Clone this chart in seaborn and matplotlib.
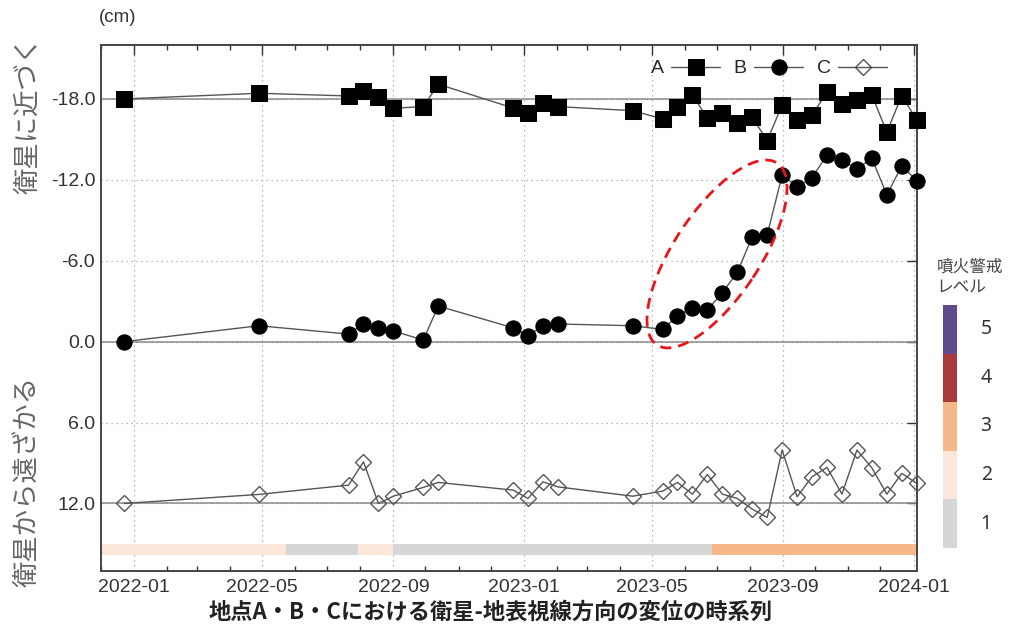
import pandas as pd
import numpy as np
import matplotlib
matplotlib.use("Agg")
import matplotlib.pyplot as plt
import matplotlib.dates as mdates
import matplotlib.transforms as mtransforms
from matplotlib.patches import Ellipse
import seaborn as sns

# 観測日 (14日間隔)
dates = pd.to_datetime([
    "2021-12-23", "2022-04-28", "2022-07-21", "2022-08-04", "2022-08-18",
    "2022-09-01", "2022-09-29", "2022-10-13", "2022-12-22", "2023-01-05",
    "2023-01-19", "2023-02-02", "2023-04-13", "2023-05-11", "2023-05-25",
    "2023-06-08", "2023-06-22", "2023-07-06", "2023-07-20", "2023-08-03",
    "2023-08-17", "2023-08-31", "2023-09-14", "2023-09-28", "2023-10-12",
    "2023-10-26", "2023-11-09", "2023-11-23", "2023-12-07", "2023-12-21",
    "2024-01-04"])

# 変位 (cm) 表示用にオフセット済み
disp_a = [-18.0, -18.42, -18.22, -18.62, -18.13, -17.31, -17.43, -19.09, -17.33, -16.94,
          -17.68, -17.43, -17.13, -16.52, -17.43, -18.30, -16.57, -16.94, -16.20, -16.64,
          -14.91, -17.56, -16.44, -16.81, -18.50, -17.63, -17.93, -18.30, -15.53, -18.25,
          -16.44]
disp_b = [0.0, -1.18, -0.56, -1.31, -1.01, -0.79, -0.12, -2.64, -1.03, -0.44,
          -1.18, -1.31, -1.18, -0.91, -1.90, -2.52, -2.35, -3.63, -5.14, -7.78,
          -7.91, -12.36, -11.49, -12.16, -13.85, -13.47, -12.81, -13.60, -10.88, -13.03,
          -11.94]
disp_c = [12.0, 11.33, 10.64, 8.91, 12.0, 11.46, 10.81, 10.44, 11.01, 11.63,
          10.40, 10.77, 11.46, 11.09, 10.44, 11.31, 9.85, 11.31, 11.63, 12.42,
          13.04, 8.04, 11.51, 10.02, 9.33, 11.31, 8.04, 9.36, 11.31, 9.77,
          10.51]

baselines = [-18.0, 0.0, 12.0]
yticks = [-18, -12, -6, 0, 6, 12]

# 噴火警戒レベルの期間
level_start = pd.to_datetime(["2021-12-01", "2022-05-23", "2022-07-30", "2022-09-01", "2023-06-26"])
level_end = pd.to_datetime(["2022-05-23", "2022-07-30", "2022-09-01", "2023-06-26", "2024-01-04"])
level_values = [2, 1, 2, 1, 3]

level_names = [1, 2, 3, 4, 5]
level_colors = {1: "#d6d6d6", 2: "#fde6da", 3: "#f6b888", 4: "#a83c3c", 5: "#5f4b8b"}

sns.set_style("white")
plt.rcParams["font.family"] = ["Liberation Sans Narrow", "Liberation Sans", "Noto Sans CJK JP", "DejaVu Sans"]
plt.rcParams["axes.unicode_minus"] = False

fig = plt.figure(figsize=(10.26, 6.4), dpi=100)
ax = fig.add_axes([0.0982, 0.108, 0.7953, 0.8217])

xmin = pd.Timestamp("2021-12-01")
xmax = pd.Timestamp("2024-01-04")

# グリッドと基準線
for y in yticks:
    ax.axhline(y, color="#a0a0a0", lw=0.9, ls=(0, (1, 3)), zorder=0)
for d in pd.to_datetime(["2022-01-01", "2022-05-01", "2022-09-01", "2023-01-01",
                         "2023-05-01", "2023-09-01", "2024-01-01"]):
    ax.axvline(d, color="#a0a0a0", lw=0.9, ls=(0, (1, 3)), zorder=0)
for y in baselines:
    ax.axhline(y, color="#8a8a8a", lw=1.1, zorder=1)

# 警戒レベル帯
for s, e, lv in zip(level_start, level_end, level_values):
    ax.broken_barh([(mdates.date2num(s), mdates.date2num(e) - mdates.date2num(s))],
                   (15.0, 0.8), facecolors=level_colors[lv], edgecolor="none", zorder=1)

sns.lineplot(x=dates, y=disp_a, ax=ax, color="#555555", lw=1.0, marker="s",
             markersize=11, markerfacecolor="black", markeredgecolor="black", label="A",
             zorder=3, clip_on=False)
sns.lineplot(x=dates, y=disp_b, ax=ax, color="#555555", lw=1.0, marker="o",
             markersize=11, markerfacecolor="black", markeredgecolor="black", label="B",
             zorder=3, clip_on=False)
sns.lineplot(x=dates, y=disp_c, ax=ax, color="#555555", lw=1.0, marker="D",
             markersize=8, markerfacecolor="none", markeredgecolor="#555555",
             markeredgewidth=1.0, label="C", zorder=3, clip_on=False)

ax.set_xlim(xmin, xmax)
ax.set_ylim(17.0, -22.0)
ax.set_yticks(yticks)
ax.yaxis.set_major_formatter(plt.FormatStrFormatter("%.1f"))
ax.xaxis.set_major_locator(mdates.MonthLocator(bymonth=[1, 5, 9]))
ax.xaxis.set_minor_locator(mdates.MonthLocator())
ax.xaxis.set_major_formatter(mdates.DateFormatter("%Y-%m"))
ax.tick_params(axis="both", which="major", direction="in", length=7, width=1.0,
               top=True, right=True, labelsize=14, colors="#333333", pad=6)
ax.tick_params(axis="x", which="minor", direction="in", length=3.5, width=1.0,
               top=True, bottom=True, color="#333333")
ax.tick_params(axis="y", pad=4)
for sp in ax.spines.values():
    sp.set_color("#444444")
    sp.set_linewidth(1.4)
ax.set_xlabel("")
ax.set_ylabel("")

leg = ax.legend(ncol=3, markerfirst=False, frameon=False, loc="upper right",
                bbox_to_anchor=(0.985, 1.005), handlelength=2.5, columnspacing=0.7,
                handletextpad=0.4, fontsize=14)

# 赤い破線の楕円 (ピクセル単位で指定)
trans = fig.dpi_scale_trans + mtransforms.ScaledTranslation(
    mdates.date2num(pd.Timestamp("2023-07-01")), -6.5, ax.transData)
ax.add_patch(Ellipse((0, 0), 2.18, 0.86, angle=56.5, transform=trans, fill=False,
                     edgecolor="#e8161b", lw=2.0, ls=(0, (4, 2.5)), zorder=4))

# テキスト
fig.text(0.096, 0.972, "(cm)", fontsize=13.5, color="#333333", ha="left", va="center")
fig.text(0.027, 0.82, "衛星に近づく", rotation=90, fontsize=19, color="#666666",
         ha="center", va="center", family=["Noto Sans CJK JP"])
fig.text(0.027, 0.247, "衛星から遠ざかる", rotation=90, fontsize=19, color="#666666",
         ha="center", va="center", family=["Noto Sans CJK JP"])
fig.text(0.478, 0.043, "地点A・B・Cにおける衛星-地表視線方向の変位の時系列", fontsize=16,
         fontweight="bold", color="#222222", ha="center", va="center",
         family=["Noto Sans CJK JP"])

# 噴火警戒レベルの凡例
lax = fig.add_axes([0.919, 0.1438, 0.0136, 0.3797])
for lv in level_names:
    lax.bar(0, 1, bottom=lv - 1, width=1, color=level_colors[lv], edgecolor="none")
    lax.text(2.6, lv - 0.5, str(lv), fontsize=14, color="#333333", ha="center", va="center",
             family=["Noto Sans", "DejaVu Sans"])
lax.set_xlim(-0.5, 0.5)
lax.set_ylim(0, 5)
lax.axis("off")
fig.text(0.913, 0.567, "噴火警戒\nレベル", fontsize=12, color="#444444", ha="left",
         va="center", linespacing=1.3, family=["Noto Sans CJK JP"])

fig.savefig("out.png", dpi=100)
